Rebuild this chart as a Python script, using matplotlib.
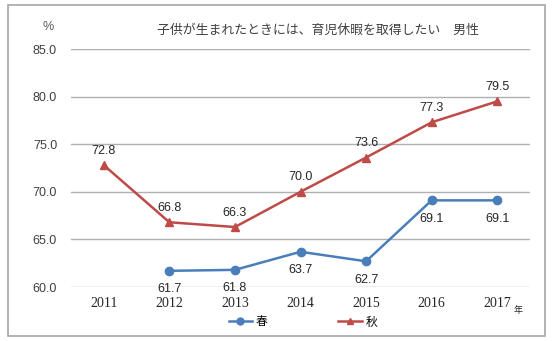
import matplotlib
matplotlib.use("Agg")
import matplotlib.pyplot as plt
from matplotlib.patches import Rectangle
from matplotlib.lines import Line2D

years = ["2011", "2012", "2013", "2014", "2015", "2016", "2017"]
spring_years = ["2012", "2013", "2014", "2015", "2016", "2017"]
spring = [61.7, 61.8, 63.7, 62.7, 69.1, 69.1]
autumn = [72.8, 66.8, 66.3, 70.0, 73.6, 77.3, 79.5]
yticks = [60.0, 65.0, 70.0, 75.0, 80.0, 85.0]
title = "子供が生まれたときには、育児休暇を取得したい　男性"

plt.rcParams['font.family'] = ['Liberation Sans', 'Noto Sans CJK JP', 'DejaVu Sans']

W, H = 553, 341
fig = plt.figure(figsize=(W / 100, H / 100), dpi=100)
fig.patch.set_facecolor("white")

# outer frame
fig.patches.append(Rectangle((8 / W, 1 - 336 / H), (545 - 8) / W, (336 - 5) / H,
                             transform=fig.transFigure, fill=False,
                             edgecolor="#a6a6a6", linewidth=1.2))

ax = fig.add_axes([71 / W, 1 - 287 / H, (530 - 71) / W, (287 - 49) / H])
ax.set_xlim(-0.5, len(years) - 0.5)
ax.set_ylim(60, 85)
ax.set_yticks(yticks)
ax.set_yticklabels([f"{v:.1f}" for v in yticks], fontsize=9, color="#404040")
ax.set_xticks(range(len(years)))
ax.set_xticklabels(years, fontsize=10, family=['Liberation Serif'], color="#262626")
ax.tick_params(axis='both', length=0)
ax.tick_params(axis='y', pad=10)
ax.tick_params(axis='x', pad=7)
for s in ax.spines.values():
    s.set_visible(False)
ax.grid(axis='y', color="#b0b0b0", linewidth=1.0)
ax.set_axisbelow(True)

blue = "#4a7ebb"
red = "#be4b48"
xs_spring = [years.index(y) for y in spring_years]
xs_autumn = list(range(len(years)))
ax.plot(xs_spring, spring, color=blue, linewidth=1.8, marker='o', markersize=6, zorder=3, clip_on=False)
ax.plot(xs_autumn, autumn, color=red, linewidth=1.8, marker='^', markersize=6, zorder=3, clip_on=False)

for x, v in zip(xs_spring, spring):
    ax.annotate(f"{v:.1f}", (x, v), xytext=(0, -9), textcoords='offset points',
                ha='center', va='top', fontsize=9, color="#262626")
for x, v in zip(xs_autumn, autumn):
    ax.annotate(f"{v:.1f}", (x, v), xytext=(0, 6), textcoords='offset points',
                ha='center', va='bottom', fontsize=9, color="#262626")

fig.text(48 / W, 1 - 27 / H, "%", fontsize=9, ha='center', va='center', color="#595959")
fig.text(318 / W, 1 - 30 / H, title, fontsize=9.3, ha='center', va='center', color="#404040",
         family=['Noto Sans CJK JP', 'DejaVu Sans'])
fig.text(518 / W, 1 - 311 / H, "年", fontsize=6.5, ha='center', va='center', color="#262626",
         family=['Noto Sans CJK JP'])

handles = [Line2D([], [], color=blue, marker='o', markersize=5, linewidth=1.8),
           Line2D([], [], color=red, marker='^', markersize=5, linewidth=1.8)]
fig.legend(handles, ["春", "秋"], loc='center', bbox_to_anchor=(303 / W, 1 - 322 / H),
           ncol=2, frameon=False, handlelength=2.0, handletextpad=0.3,
           columnspacing=6.0, prop={'family': ['Noto Sans CJK JP'], 'size': 8.5})

fig.savefig("out.png", dpi=100)
